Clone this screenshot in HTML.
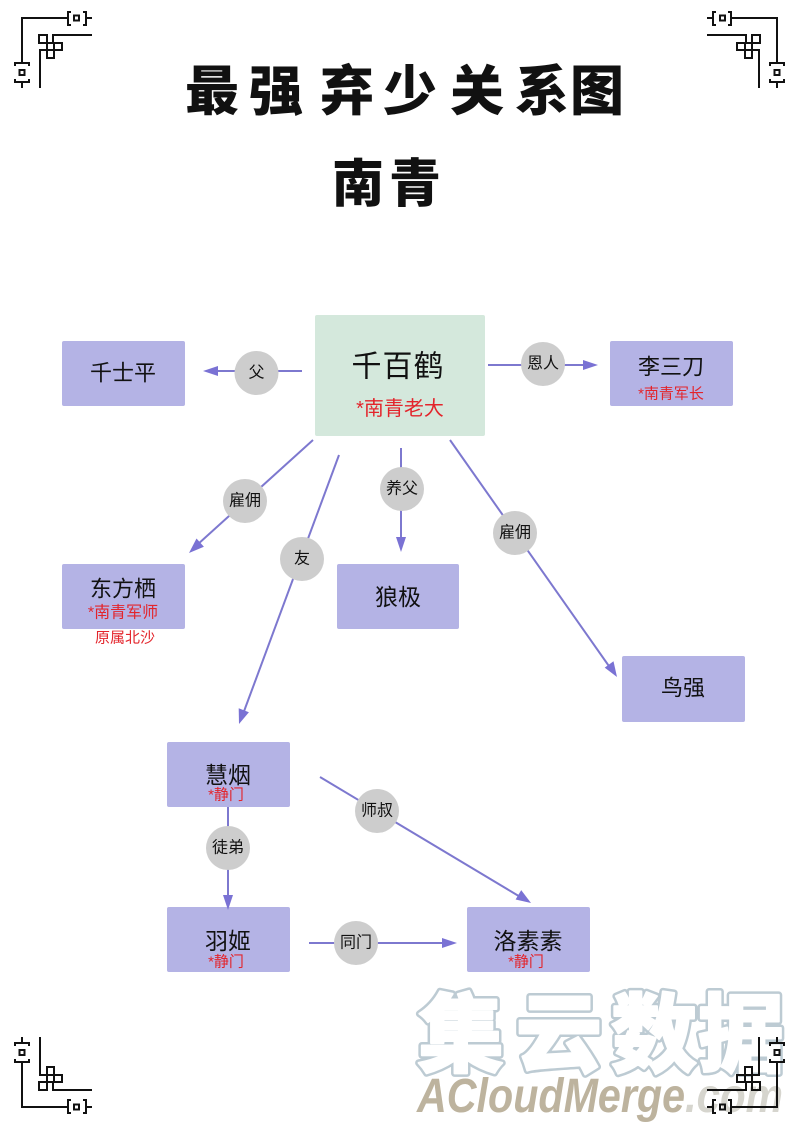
<!DOCTYPE html>
<html><head><meta charset="utf-8"><style>
html,body{margin:0;padding:0;background:#fff;}
svg{display:block;}
text{font-family:"Liberation Sans","Noto Sans CJK SC",sans-serif;}
.t{dominant-baseline:central;text-anchor:middle;}
.box{fill:#b4b3e5;}
.ln{stroke:#7d78cf;stroke-width:2;fill:none;}
.ah{fill:#7a72d4;}
.c{fill:#cdcdcd;}
.red{fill:#e3242b;}
.orn{stroke:#111;stroke-width:2;fill:none;}
</style></head><body>
<svg width="800" height="1131" viewBox="0 0 800 1131" xmlns="http://www.w3.org/2000/svg">
<defs>
<g id="orn" class="orn">
  <path d="M22,62 V18 H68"/>
  <path d="M71,12 H68 V25 H71"/>
  <path d="M83,12 H86 V25 H83"/>
  <rect x="74" y="15.5" width="5" height="5"/>
  <path d="M86,18 H92"/>
  <path d="M15,66 V63 H29 V66"/>
  <path d="M15,79 V82 H29 V79"/>
  <rect x="19.5" y="70" width="5" height="5"/>
  <path d="M22,82 V88"/>
  <path d="M40,88 V50 H47"/>
  <rect x="39" y="35" width="8" height="8"/>
  <rect x="47" y="43" width="7" height="7"/>
  <rect x="54" y="43" width="8" height="7"/>
  <rect x="47" y="50" width="7" height="8"/>
  <path d="M53,43 V35 H92"/>
</g>
<g id="wm" style="font-family:'Noto Sans CJK SC',sans-serif;font-weight:900;" font-size="86">
  <text class="t" x="461" y="1036">集</text>
  <text class="t" x="559" y="1036">云</text>
  <text class="t" x="654" y="1036">数</text>
  <text class="t" x="741" y="1036">据</text>
</g>
</defs>

<!-- watermark -->
<use href="#wm" fill="#bdcbd3" stroke="#bdcbd3" stroke-width="7" stroke-linejoin="round" stroke-linecap="round"/>
<use href="#wm" fill="#fff" stroke="#fff" stroke-width="2" stroke-linejoin="round" stroke-linecap="round"/>
<text x="417" y="1112" font-size="48" font-weight="bold" font-style="italic" fill="#bdb39e" textLength="268" lengthAdjust="spacingAndGlyphs">ACloudMerge</text>
<text x="685" y="1112" font-size="48" font-weight="bold" font-style="italic" fill="#d6d5ce" textLength="98" lengthAdjust="spacingAndGlyphs">.com</text>

<!-- corners -->
<use href="#orn"/>
<use href="#orn" transform="translate(799,0) scale(-1,1)"/>
<use href="#orn" transform="translate(0,1125) scale(1,-1)"/>
<use href="#orn" transform="translate(799,1125) scale(-1,-1)"/>

<!-- title -->
<g style="font-family:'Noto Sans CJK SC',sans-serif;font-weight:900;" font-size="54" fill="#111">
  <text class="t" x="212" y="92">最</text>
  <text class="t" x="276" y="92">强</text>
  <text class="t" x="347" y="92">弃</text>
  <text class="t" x="410" y="92">少</text>
  <text class="t" x="477" y="92">关</text>
  <text class="t" x="542" y="92">系</text>
  <text class="t" x="597" y="92">图</text>
  <text class="t" x="358" y="185" font-size="52">南</text>
  <text class="t" x="415" y="185" font-size="52">青</text>
</g>

<!-- connectors -->
<line class="ln" x1="302" y1="371" x2="214" y2="371"/>
<polygon class="ah" points="203,371 218,366 218,376"/>
<line class="ln" x1="488" y1="365" x2="588" y2="365"/>
<polygon class="ah" points="598,365 583,360 583,370"/>

<line class="ln" x1="313" y1="440" x2="197" y2="545"/>
<polygon class="ah" points="189,553 196.5,538.5 203.9,546.7"/>
<line class="ln" x1="339" y1="455" x2="243" y2="714"/>
<polygon class="ah" points="239,724 238.7,708.3 248.9,712.2"/>
<line class="ln" x1="401" y1="448" x2="401" y2="542"/>
<polygon class="ah" points="401,552 396,537 406,537"/>
<line class="ln" x1="450" y1="440" x2="611" y2="669"/>
<polygon class="ah" points="617,677 604.7,667.6 613.5,661.2"/>

<line class="ln" x1="228" y1="807" x2="228" y2="898"/>
<line class="ln" x1="320" y1="777" x2="522" y2="898"/>
<polygon class="ah" points="531,903 515.6,899.5 521.2,890.1"/>
<line class="ln" x1="309" y1="943" x2="447" y2="943"/>
<polygon class="ah" points="457,943 442,938 442,948"/>

<!-- label circles -->
<circle class="c" cx="256.5" cy="373" r="22"/>
<circle class="c" cx="543" cy="364" r="22"/>
<circle class="c" cx="245" cy="501" r="22"/>
<circle class="c" cx="302" cy="559" r="22"/>
<circle class="c" cx="402" cy="489" r="22"/>
<circle class="c" cx="515" cy="533" r="22"/>
<circle class="c" cx="228" cy="848" r="22"/>
<circle class="c" cx="377" cy="811" r="22"/>
<circle class="c" cx="356" cy="943" r="22"/>
<g font-size="16" fill="#111">
  <text class="t" x="256.5" y="373">父</text>
  <text class="t" x="543" y="364">恩人</text>
  <text class="t" x="245" y="501">雇佣</text>
  <text class="t" x="302" y="559">友</text>
  <text class="t" x="402" y="489">养父</text>
  <text class="t" x="515" y="533">雇佣</text>
  <text class="t" x="228" y="848">徒弟</text>
  <text class="t" x="377" y="811">师叔</text>
  <text class="t" x="356" y="943">同门</text>
</g>

<!-- boxes -->
<rect x="315" y="315" width="170" height="121" rx="2" fill="#d4e8dc"/>
<text class="t" x="398" y="367" font-size="30" fill="#111" letter-spacing="1">千百鹤</text>
<text class="t red" x="400" y="409" font-size="20">*南青老大</text>

<rect class="box" x="62" y="341" width="123" height="65" rx="2"/>
<text class="t" x="123" y="373" font-size="22" fill="#111">千士平</text>

<rect class="box" x="610" y="341" width="123" height="65" rx="2"/>
<text class="t" x="671" y="367" font-size="22" fill="#111">李三刀</text>
<text class="t red" x="671" y="394" font-size="15">*南青军长</text>

<rect class="box" x="62" y="564" width="123" height="65" rx="2"/>
<text class="t" x="123" y="589" font-size="22" fill="#111">东方栖</text>
<text class="t red" x="123" y="613" font-size="16">*南青军师</text>
<text class="t red" x="125" y="638" font-size="15">原属北沙</text>

<rect class="box" x="337" y="564" width="122" height="65" rx="2"/>
<text class="t" x="398" y="597" font-size="23" fill="#111">狼极</text>

<rect class="box" x="622" y="656" width="123" height="66" rx="2"/>
<text class="t" x="683" y="688" font-size="22" fill="#111">鸟强</text>

<rect class="box" x="167" y="742" width="123" height="65" rx="2"/>
<text class="t" x="228" y="775" font-size="23" fill="#111">慧烟</text>
<text class="t red" x="226" y="795" font-size="15">*静门</text>

<rect class="box" x="167" y="907" width="123" height="65" rx="2"/>
<text class="t" x="228" y="941" font-size="23" fill="#111">羽姬</text>
<text class="t red" x="226" y="962" font-size="15">*静门</text>
<polygon class="ah" points="228,910 223,895 233,895"/>

<rect class="box" x="467" y="907" width="123" height="65" rx="2"/>
<text class="t" x="528" y="941" font-size="23" fill="#111">洛素素</text>
<text class="t red" x="526" y="962" font-size="15">*静门</text>
</svg>
</body></html>
